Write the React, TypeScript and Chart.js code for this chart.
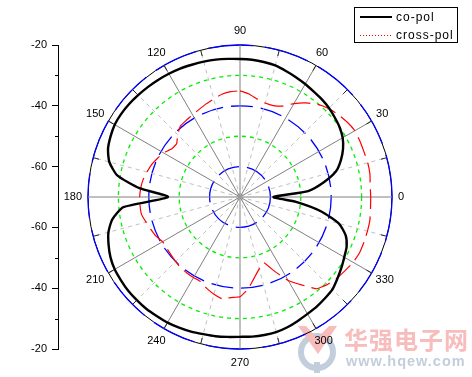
import { useEffect, useRef } from "react";
import { Chart, registerables } from "chart.js";

Chart.register(...registerables);

const angles = [
  90, 85, 80, 75, 70, 65, 60, 55, 50, 45, 40, 35, 30, 25, 20, 15, 10, 5, 0,
  355, 350, 345, 340, 335, 330, 325, 320, 315, 310, 305, 300, 295, 290, 285, 280, 275, 270,
  265, 260, 255, 250, 245, 240, 235, 230, 225, 220, 215, 210, 205, 200, 195, 190, 185, 180,
  175, 170, 165, 160, 155, 150, 145, 140, 135, 130, 125, 120, 115, 110, 105, 100, 95,
];

const coPol = [
  -24.6, -24.7, -24.9, -25.2, -25.9, -26.5, -27.1, -27.7, -28.1, -28.6, -29.3, -30, -31, -32.6, -34.7, -37.3, -42, -47.5, -59,
  -51.5, -43, -36.3, -33, -31.3, -30.4, -29.3, -28.2, -27, -26.5, -26, -25.6, -25, -24.4, -24, -23.9, -23.9, -24,
  -23.8, -23.5, -23.3, -22.9, -22.6, -22.3, -22.2, -22, -22, -22, -22.2, -22.4, -23, -24, -25.2, -27.3, -31.5, -46.3,
  -36.8, -29, -25.5, -23.8, -23, -22.4, -22.3, -22.4, -22.6, -22.8, -23, -23.2, -23.4, -23.7, -23.9, -24.1, -24.4,
];

const crossPol = [
  -35.1, -36, -37.3, -38, -38, -37, -34.5, -32.2, -30.2, -28.8, -27.8, -27, -26.4, -26.5, -26.6, -26.5, -26.6, -27, -27,
  -26.9, -26.6, -26.6, -26.6, -26.6, -27, -27.8, -28.4, -29.3, -30.6, -34.7, -38.3, -43, -47, -45.5, -43, -39.6, -37.2,
  -36.8, -36, -36.9, -38, -39.3, -39.4, -39.5, -39.6, -40, -40.4, -40.6, -40.6, -39.5, -38.8, -38, -37.1, -37, -37,
  -37.2, -37.6, -38.3, -39, -40, -40.9, -42.5, -42.8, -41, -39.5, -39.2, -38.8, -38.2, -37.4, -36.6, -35.7, -35.2,
];

const seriesNames = ["co-pol", "cross-pol"];
const minorAxisTicks = [-40, -20, 20, 40];
const watermarkTitle = "华强电子网";
const watermarkUrl = "www.hqew.com";

const FONT = '"Liberation Sans", Arial, sans-serif';

const drawExtras = {
  id: "extras",
  beforeDraw(chart: any) {
    const ctx = chart.ctx;
    const r = chart.scales.r;
    ctx.save();
    ctx.fillStyle = "#fff";
    ctx.fillRect(0, 0, chart.width, chart.height);

    // watermark
    ctx.fillStyle = "#f7bcbc";
    ctx.font = 'bold 24px "Noto Sans CJK SC"';
    ctx.textAlign = "left";
    ctx.textBaseline = "middle";
    ctx.letterSpacing = "1px";
    ctx.fillText(watermarkTitle, 344, 340);
    ctx.letterSpacing = "1px";
    ctx.fillStyle = "#c3cedd";
    ctx.font = `bold 14.5px ${FONT}`;
    ctx.fillText(watermarkUrl, 346, 362);
    ctx.letterSpacing = "0px";
    // logo
    ctx.strokeStyle = "#c3cedd";
    ctx.lineWidth = 6;
    ctx.beginPath();
    ctx.arc(317, 352, 16, 0, Math.PI * 2);
    ctx.stroke();
    ctx.fillStyle = "#c3cedd";
    ctx.fillRect(314, 362, 6, 11);
    ctx.fillStyle = "#f7bcbc";
    ctx.beginPath();
    ctx.moveTo(298, 326);
    ctx.lineTo(306, 326);
    ctx.lineTo(317, 338);
    ctx.lineTo(329, 326);
    ctx.lineTo(337, 326);
    ctx.lineTo(318, 354);
    ctx.closePath();
    ctx.fill();

    // thin black circle showing through the gaps of the blue outer ring
    ctx.strokeStyle = "#000";
    ctx.lineWidth = 1;
    ctx.beginPath();
    ctx.arc(r.xCenter, r.yCenter, r.getDistanceFromCenterForValue(-20), 0, Math.PI * 2);
    ctx.stroke();
    ctx.restore();
  },
  afterDraw(chart: any) {
    const ctx = chart.ctx;
    const r = chart.scales.r;
    const y = chart.scales.y;
    ctx.save();

    // minor ticks on the left axis
    ctx.strokeStyle = "#000";
    ctx.lineWidth = 1;
    minorAxisTicks.forEach((v) => {
      const py = Math.round(y.getPixelForValue(v)) + 0.5;
      ctx.beginPath();
      ctx.moveTo(y.right - 3, py);
      ctx.lineTo(y.right, py);
      ctx.stroke();
    });

    const d = r.getDistanceFromCenterForValue(-20);

    // short dark ends of the spokes, next to the outer circle
    ctx.strokeStyle = "#222";
    angles.forEach((a, i) => {
      if (a % 15 !== 0 || a % 90 === 0) return;
      const p0 = r.getPointPosition(i, d);
      const p1 = r.getPointPosition(i, d - 6);
      ctx.beginPath();
      ctx.moveTo(p0.x, p0.y);
      ctx.lineTo(p1.x, p1.y);
      ctx.stroke();
    });

    // angular labels
    ctx.fillStyle = "#000";
    ctx.font = `11px ${FONT}`;
    ctx.textAlign = "center";
    ctx.textBaseline = "middle";
    angles.forEach((a) => {
      if (a % 30 !== 0) return;
      const label = String(a);
      const w = ctx.measureText(label).width;
      const rad = (a * Math.PI) / 180;
      ctx.fillText(
        label,
        r.xCenter + (d + 6 + w / 2) * Math.cos(rad),
        r.yCenter - (d + 14) * Math.sin(rad)
      );
    });

    // legend
    const names = chart.data.datasets.map((ds: any) => ds.label);
    ctx.strokeStyle = "#000";
    ctx.lineWidth = 1;
    ctx.strokeRect(354.5, 7.5, 103, 35);
    ctx.font = `12px ${FONT}`;
    ctx.textAlign = "left";
    ctx.letterSpacing = "1px";
    ctx.fillStyle = "#000";
    ctx.fillText(names[0], 396, 18);
    ctx.fillText(names[1], 396, 36);
    ctx.letterSpacing = "0px";
    ctx.lineWidth = 2;
    ctx.beginPath();
    ctx.moveTo(360, 17);
    ctx.lineTo(392, 17);
    ctx.stroke();
    ctx.strokeStyle = "#f00";
    ctx.lineWidth = 1;
    ctx.setLineDash([1, 2]);
    ctx.beginPath();
    ctx.moveTo(360, 35.5);
    ctx.lineTo(392, 35.5);
    ctx.stroke();
    ctx.restore();
  },
};

export default function App() {
  const ref = useRef<HTMLCanvasElement>(null);

  useEffect(() => {
    const chart = new Chart(ref.current as HTMLCanvasElement, {
      type: "radar",
      data: {
        labels: angles.map(String),
        datasets: [
          {
            label: seriesNames[0],
            data: coPol,
            borderColor: "#000",
            borderWidth: 2.4,
            pointRadius: 0,
            fill: false,
            tension: 0.2,
          },
          {
            label: seriesNames[1],
            data: crossPol,
            borderColor: "#f00",
            borderWidth: 1.2,
            borderDash: [20, 7],
            pointRadius: 0,
            fill: false,
            tension: 0.1,
          },
        ],
      },
      options: {
        responsive: false,
        animation: false,
        events: [],
        layout: { padding: { left: 0, right: 49, top: 45, bottom: 28 } },
        plugins: { legend: { display: false }, tooltip: { enabled: false } },
        scales: {
          r: {
            type: "radialLinear",
            min: -70,
            max: -20,
            ticks: { display: false, stepSize: 10 },
            pointLabels: { display: false },
            grid: {
              circular: true,
              lineWidth: 1.3,
              color: (c: any) => {
                const v = c.tick ? c.tick.value : 0;
                return v === -30 || v === -50 ? "#00f000" : "#0000ff";
              },
            },
            border: {
              dash: (c: any) => {
                const v = c.tick ? c.tick.value : 0;
                if (v === -30 || v === -50) return [4, 4];
                if (v === -20) return [45, 12];
                return [22, 8];
              },
            },
            angleLines: {
              display: true,
              lineWidth: (c: any) => (angles[c.index] % 15 === 0 ? 1 : 0),
              color: (c: any) => (angles[c.index] % 30 === 0 ? "#808080" : "#c0c0c0"),
              borderDash: (c: any) => (angles[c.index] % 30 === 0 ? [] : [4, 4]),
            },
          },
          y: {
            type: "linear",
            position: "left",
            min: -50,
            max: 50,
            afterFit: (s: any) => {
              s.width = 58;
            },
            ticks: {
              stepSize: 20,
              padding: 5,
              color: "#000",
              font: { family: FONT, size: 11 },
              callback: (v: any) => String(-70 + Math.abs(Number(v))),
            },
            grid: { drawOnChartArea: false, drawTicks: true, tickLength: 6, color: "#000" },
            border: { display: true, color: "#000", width: 1 },
          },
        },
      } as any,
      plugins: [drawExtras],
    });
    return () => chart.destroy();
  }, []);

  return (
    <div style={{ position: "fixed", left: 0, top: 0, width: 472, height: 377 }}>
      <canvas ref={ref} width={472} height={377} style={{ display: "block" }} />
    </div>
  );
}
